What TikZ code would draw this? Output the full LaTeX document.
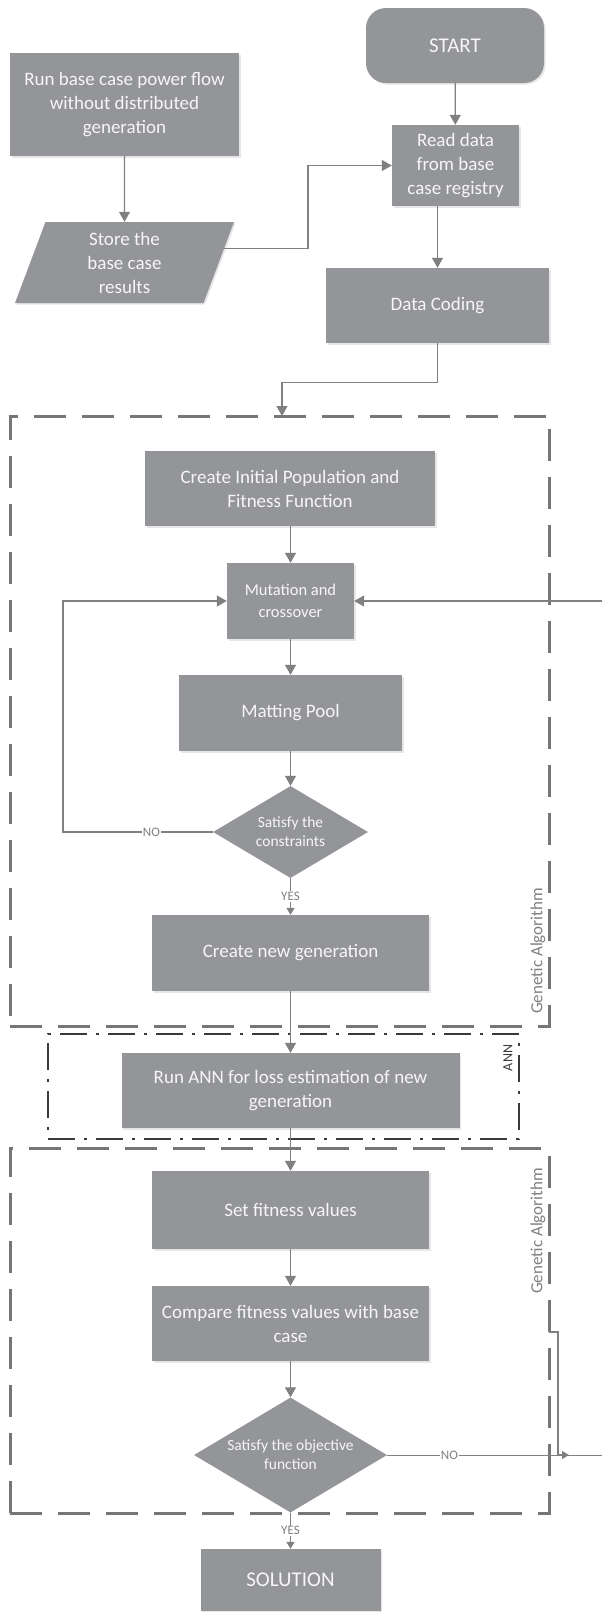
\documentclass[tikz,border=0pt]{standalone}
\usepackage{fontspec}
\setmainfont{Carlito}
\usetikzlibrary{shapes,arrows.meta,positioning,calc,shadows}
\definecolor{boxgray}{RGB}{148,149,153}
\definecolor{linegray}{RGB}{128,128,128}
\definecolor{dashgray}{RGB}{118,118,120}
\definecolor{anndark}{RGB}{58,58,60}
\definecolor{textwhite}{RGB}{246,246,246}
\newcommand{\mainfnt}{\fontsize{19}{24}\selectfont}
\newcommand{\bigfnt}{\fontsize{21}{25}\selectfont}
\newcommand{\midfnt}{\fontsize{16.5}{22}\selectfont}
\newcommand{\decfnt}{\fontsize{15.5}{19}\selectfont}
\newcommand{\tagfnt}{\fontsize{13}{15}\selectfont}
\newcommand{\galfnt}{\fontsize{17}{19}\selectfont}
\newcommand{\annfnt}{\fontsize{14}{16}\selectfont}

\begin{document}
\begin{tikzpicture}[
        x=1pt, y=-1pt,
        block/.style={rectangle, fill=boxgray, text=textwhite, font=\mainfnt, align=center, inner sep=2pt,
            drop shadow={shadow xshift=1.5pt, shadow yshift=-1.5pt, opacity=0.2}},
        decision/.style={diamond, fill=boxgray, text=textwhite, font=\decfnt, align=center, inner sep=0pt, aspect=1.68},
        arrow/.style={-{Triangle[length=10pt, width=11pt]}, draw=linegray, line width=1.2pt},
        smallarrow/.style={-{Triangle[length=7pt, width=8pt]}, draw=linegray, line width=1.2pt},
        line/.style={draw=linegray, line width=1pt},
        tag/.style={fill=white, text=linegray, font=\tagfnt, inner sep=1pt},
        gabox/.style={rectangle, draw=dashgray, line width=3pt, dash pattern=on 32pt off 16pt},
        annbox/.style={rectangle, draw=anndark, line width=2.5pt, dash pattern=on 27pt off 9pt on 3pt off 9pt}
    ]
        \useasboundingbox (0,0) rectangle (602,1612);

        % Frames
        \node[gabox, minimum width=539pt, minimum height=610pt] (gaone) at (279.5,721) {};
        \node[annbox, minimum width=471pt, minimum height=105pt] (ann) at (283.5,1086.5) {};
        \node[gabox, minimum width=539pt, minimum height=365pt] (gatwo) at (279.5,1330.5) {};
        \node[rotate=90, font=\galfnt, text=linegray] (galabel) at (538,951) {Genetic Algorithm};
        \node[rotate=90, font=\annfnt, text=anndark] (annlabel) at (508,1058) {ANN};
        \node[rotate=90, font=\galfnt, text=linegray] (galabeltwo) at (538,1231) {Genetic Algorithm};

        % Base case
        \node[block, rounded corners=20pt, minimum width=178pt, minimum height=75pt, font=\bigfnt] (start) at (455,45.5) {START};
        \node[block, minimum width=229pt, minimum height=103pt] (runbase) at (124.5,104.5) {Run base case power flow\\without distributed\\generation};
        \node[block, trapezium, trapezium left angle=65, trapezium right angle=115, trapezium stretches body,
            minimum width=219pt, minimum height=81pt] (store) at (124.5,262.5) {Store the\\base case\\results};
        \node[block, minimum width=127pt, minimum height=81pt] (readdata) at (455.5,165.5) {Read data\\from base\\case registry};
        \node[block, minimum width=223pt, minimum height=75pt] (coding) at (437.5,305.5) {Data Coding};

        % Genetic algorithm
        \node[block, minimum width=290pt, minimum height=75pt] (initpop) at (290,488.5) {Create Initial Population and\\Fitness Function};
        \node[block, minimum width=127pt, minimum height=76pt, font=\midfnt] (mutation) at (290.5,601) {Mutation and\\crossover};
        \node[block, minimum width=223pt, minimum height=76pt] (matting) at (290.5,713) {Matting Pool};
        \node[decision, minimum width=155pt, minimum height=92pt] (constr) at (290.5,832) {Satisfy the\\constraints};
        \node[block, minimum width=277pt, minimum height=76pt] (newgen) at (290.5,953) {Create new generation};

        % ANN
        \node[block, minimum width=338pt, minimum height=75pt] (runann) at (290.5,1090.5) {Run ANN for loss estimation of new\\generation};

        % Fitness check
        \node[block, minimum width=277pt, minimum height=78pt] (setfit) at (290.5,1210) {Set fitness values};
        \node[block, minimum width=277pt, minimum height=75pt] (compare) at (290.5,1323.5) {Compare fitness values with base\\case};
        \node[decision, minimum width=193pt, minimum height=115pt] (objective) at (290.5,1455) {Satisfy the objective\\function};
        \node[block, minimum width=180pt, minimum height=62pt, font=\bigfnt] (solution) at (290.5,1580) {SOLUTION};

        % Connectors
        \coordinate (gain) at (282,416);
        \coordinate (loopx) at (63,0);
        \coordinate (loopin) at (602,601);
        \coordinate (loopout) at (602,1455);
        \coordinate (stub) at (549,1332);

        \draw[arrow] (start) -- (readdata);
        \draw[arrow] (runbase.south) -- (store.north);
        \draw[arrow] (store.8) -| ($(store.8)!0.5!(readdata.west)$) |- (readdata.west);
        \draw[arrow] (readdata.south -| coding.north) -- (coding.north);
        \draw[arrow] (coding.south) -- ++(0,39) -| (gain);
        \draw[arrow] (initpop.south -| mutation.north) -- (mutation.north);
        \draw[arrow] (mutation) -- (matting);
        \draw[arrow] (matting) -- (constr);
        \draw[smallarrow] (constr) -- node[tag] {YES} (newgen);
        \draw[arrow] (constr.west) -- node[tag, pos=0.41] {NO} (constr.west -| loopx) |- (mutation.west);
        \draw[arrow] (loopin) -- (mutation.east);
        \draw[arrow] (newgen) -- (runann);
        \draw[arrow] (runann) -- (setfit);
        \draw[arrow] (setfit) -- (compare);
        \draw[arrow] (compare) -- (objective);
        \draw[smallarrow] (objective) -- node[tag] {YES} (solution);
        \draw[line] (objective.east) -- node[tag, pos=0.29] {NO} (loopout);
        \draw[smallarrow] (stub) -- ++(9,0) |- ++(11,123);

    \end{tikzpicture}
\end{document}
